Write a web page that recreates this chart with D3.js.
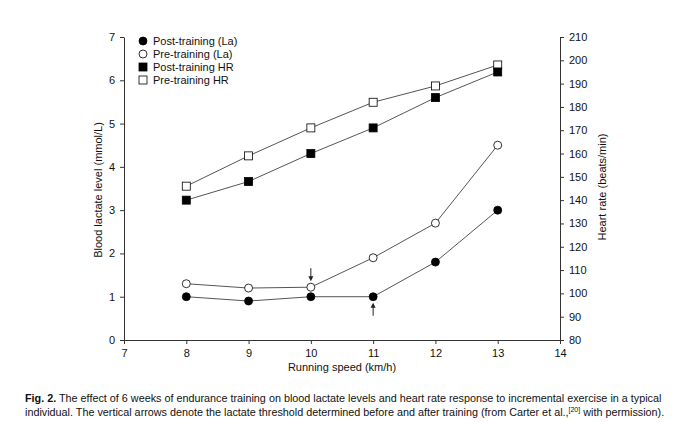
<!DOCTYPE html>
<html><head><meta charset="utf-8">
<script src="https://cdn.jsdelivr.net/npm/d3@7"></script>
<style>body{margin:0;background:#fff}svg{display:block}text{font-family:"Liberation Sans",Arial,sans-serif}</style>
</head><body>
<svg id="c" width="680" height="422"></svg>
<script>
const speeds = [8, 9, 10, 11, 12, 13];
const postLa = [1.0, 0.9, 1.0, 1.0, 1.8, 3.0];
const preLa = [1.3, 1.2, 1.22, 1.9, 2.7, 4.5];
const postHR = [140, 148, 160, 171, 184, 195];
const preHR = [146, 159, 171, 182, 189, 198];
const xTicks = [7, 8, 9, 10, 11, 12, 13, 14];
const laTicks = [0, 1, 2, 3, 4, 5, 6, 7];
const hrTicks = [80, 90, 100, 110, 120, 130, 140, 150, 160, 170, 180, 190, 200, 210];
const legendLabels = ["Post-training (La)", "Pre-training (La)", "Post-training HR", "Pre-training HR"];
const arrows = [{x: 10, y: 1.22, dir: "down"}, {x: 11, y: 1.0, dir: "up"}];

const svg = d3.select("#c");
const L = 124, R = 560, T = 37, B = 340;
const x = d3.scaleLinear().domain([7, 14]).range([L, R]);
const yL = d3.scaleLinear().domain([0, 7]).range([B, T]);
const yR = d3.scaleLinear().domain([80, 210]).range([B, T]);
const axCol = "#333";
const fmt = d3.format("d");

function styleAxis(g){
  g.selectAll("path,line").attr("stroke", axCol);
  g.selectAll("text").attr("font-size", 11).attr("fill", "#111");
}
svg.append("g").attr("transform", `translate(0,${B})`)
  .call(d3.axisBottom(x).tickValues(xTicks).tickFormat(fmt).tickSize(4).tickSizeOuter(0).tickPadding(5)).call(styleAxis);
svg.append("g").attr("transform", `translate(${L},0)`)
  .call(d3.axisLeft(yL).tickValues(laTicks).tickFormat(fmt).tickSize(4).tickSizeOuter(0).tickPadding(5)).call(styleAxis);
svg.append("g").attr("transform", `translate(${R},0)`)
  .call(d3.axisRight(yR).tickValues(hrTicks).tickFormat(fmt).tickSize(4).tickSizeOuter(0).tickPadding(5)).call(styleAxis);

svg.append("text").attr("x", 342).attr("y", 371).attr("text-anchor", "middle").attr("font-size", 11).attr("fill", "#111").text("Running speed (km/h)");
svg.append("text").attr("transform", "translate(102,190) rotate(-90)").attr("text-anchor", "middle").attr("font-size", 11).attr("fill", "#111").text("Blood lactate level (mmol/L)");
svg.append("text").attr("transform", "translate(606,187) rotate(-90)").attr("text-anchor", "middle").attr("font-size", 11).attr("fill", "#111").text("Heart rate (beats/min)");

const series = [
  {vals: preHR, y: yR, shape: "square", fill: "#fff"},
  {vals: postHR, y: yR, shape: "square", fill: "#000"},
  {vals: preLa, y: yL, shape: "circle", fill: "#fff"},
  {vals: postLa, y: yL, shape: "circle", fill: "#000"}
];
series.forEach(s => {
  const line = d3.line().x((d, i) => x(speeds[i])).y(d => s.y(d));
  svg.append("path").attr("d", line(s.vals)).attr("fill", "none").attr("stroke", "#555").attr("stroke-width", 1);
});
series.forEach(s => {
  s.vals.forEach((v, i) => {
    const cx = x(speeds[i]), cy = s.y(v);
    if (s.shape === "circle") {
      svg.append("circle").attr("cx", cx).attr("cy", cy).attr("r", 4).attr("fill", s.fill).attr("stroke", "#000").attr("stroke-width", 0.8);
    } else {
      svg.append("rect").attr("x", cx - 4).attr("y", cy - 4).attr("width", 8).attr("height", 8).attr("fill", s.fill).attr("stroke", "#000").attr("stroke-width", 0.8);
    }
  });
});

// arrows
arrows.forEach(a => {
  const ax = x(a.x), py = yL(a.y);
  if (a.dir === "down") {
    svg.append("line").attr("x1", ax).attr("x2", ax).attr("y1", py - 19).attr("y2", py - 9).attr("stroke", "#222").attr("stroke-width", 1);
    svg.append("path").attr("d", `M${ax-2.5},${py-11}L${ax+2.5},${py-11}L${ax},${py-6}Z`).attr("fill", "#222");
  } else {
    svg.append("line").attr("x1", ax).attr("x2", ax).attr("y1", py + 19).attr("y2", py + 9).attr("stroke", "#222").attr("stroke-width", 1);
    svg.append("path").attr("d", `M${ax-2.5},${py+11}L${ax+2.5},${py+11}L${ax},${py+6}Z`).attr("fill", "#222");
  }
});

// legend
const legShapes = [["circle", "#000"], ["circle", "#fff"], ["square", "#000"], ["square", "#fff"]];
legendLabels.forEach((lab, i) => {
  const ly = 41 + i * 13, lx = 143;
  const [sh, f] = legShapes[i];
  if (sh === "circle") svg.append("circle").attr("cx", lx).attr("cy", ly).attr("r", 4).attr("fill", f).attr("stroke", "#000").attr("stroke-width", 0.8);
  else svg.append("rect").attr("x", lx - 4).attr("y", ly - 4).attr("width", 8).attr("height", 8).attr("fill", f).attr("stroke", "#000").attr("stroke-width", 0.8);
  svg.append("text").attr("x", 153).attr("y", ly + 4).attr("font-size", 11).attr("fill", "#111").text(lab);
});

// caption
const cap1 = svg.append("text").attr("x", 25).attr("y", 402).attr("font-size", 10.8).attr("fill", "#111");
cap1.append("tspan").attr("font-weight", "bold").text("Fig. 2.");
cap1.append("tspan").text(" The effect of 6 weeks of endurance training on blood lactate levels and heart rate response to incremental exercise in a typical");
const cap2 = svg.append("text").attr("x", 25).attr("y", 416).attr("font-size", 10.8).attr("fill", "#111");
cap2.append("tspan").text("individual. The vertical arrows denote the lactate threshold determined before and after training (from Carter et al.,");
cap2.append("tspan").attr("font-size", 7).attr("dy", -4).text("[20]");
cap2.append("tspan").attr("dy", 4).text(" with permission).");
</script>
</body></html>
